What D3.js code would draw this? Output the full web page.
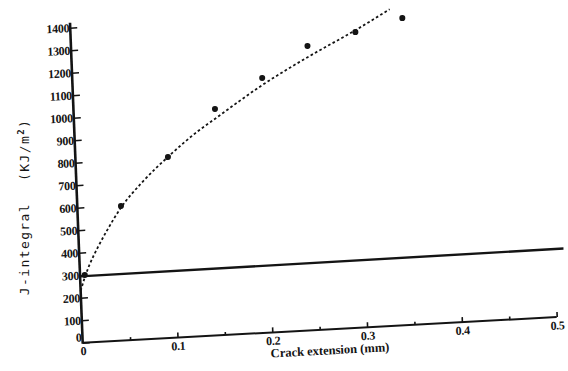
<!DOCTYPE html>
<html lang="en">
<head>
  <meta charset="utf-8">
  <title>J-integral vs crack extension</title>
  <script type="text/javascript" src="https://cdn.jsdelivr.net/npm/d3@7"></script>
  <style>
    body { margin: 0; background: #fff; }
    svg { display: block; }
  </style>
</head>
<body>
  <script type="text/javascript">

  // tick values
  var xMajor = [0.1, 0.2, 0.3, 0.4, 0.5];
  var xMinor = [0.05, 0.15, 0.25, 0.35, 0.45];
  var xLabels = [0, 0.1, 0.2, 0.3, 0.4, 0.5];
  var yTicks = [0, 100, 200, 300, 400, 500, 600, 700, 800, 900, 1000, 1100, 1200, 1300, 1400];

  // measured points (crack extension mm, J kJ/m2)
  var pointX = [0.005, 0.046, 0.0975, 0.149, 0.2, 0.249, 0.3, 0.35];
  var pointJ = [300, 597, 803, 1005, 1131, 1262, 1312, 1363];

  // fitted R-curve (dashed)
  var fitX = [0, 0.005, 0.01, 0.02, 0.03, 0.046, 0.07, 0.1, 0.13, 0.15, 0.2, 0.25, 0.3, 0.337];
  var fitJ = [230, 290, 340, 420, 490, 590, 700, 812, 910, 965, 1100, 1215, 1320, 1405];

  // blunting line (solid)
  var bluntX = [0, 0.51];
  var bluntJ = [295, 302];

  var width = 568;
  var height = 371;
  var ink = "#141414";

  var svg = d3.select("body")
    .append("svg")
    .attr("width", width)
    .attr("height", height)
    .attr("viewBox", [0, 0, width, height]);

  // the scan is a bit skewed, so the plot lives in a sheared group
  var plot = svg.append("g")
    .attr("transform", "matrix(1,-0.0542,0.0397,1,82.7,342.7)");

  var x = d3.scaleLinear().domain([0, 0.5]).range([0, 474]);
  var y = d3.scaleLinear().domain([0, 1400]).range([0, -315]);

  // axis lines
  plot.append("line")
    .attr("x1", 0).attr("y1", 0)
    .attr("x2", x(0.5)).attr("y2", 0)
    .attr("stroke", ink).attr("stroke-width", 2);
  plot.append("line")
    .attr("x1", 0).attr("y1", 1)
    .attr("x2", 0).attr("y2", y(1422))
    .attr("stroke", ink).attr("stroke-width", 2.6);

  // y ticks pointing right, labels on the left
  var yTickAxis = plot.append("g")
    .call(d3.axisRight(y).tickValues(yTicks).tickSize(7).tickFormat(""));
  var yLabAxis = plot.append("g")
    .call(d3.axisLeft(y).tickValues(yTicks).tickSize(0).tickPadding(1).tickFormat(d3.format("d")));

  // x ticks pointing up, labels below
  var xTickAxis = plot.append("g")
    .call(d3.axisTop(x).tickValues(xMajor).tickSize(5).tickFormat(""));
  var xMinorAxis = plot.append("g")
    .call(d3.axisTop(x).tickValues(xMinor).tickSize(3).tickFormat(""));
  var xLabAxis = plot.append("g")
    .call(d3.axisBottom(x).tickValues(xLabels).tickSize(0).tickPadding(4)
      .tickFormat(d => d === 0 ? "0" : d3.format(".1f")(d)));

  [yTickAxis, yLabAxis, xTickAxis, xMinorAxis, xLabAxis].forEach(function(a) {
    a.select(".domain").remove();
    a.selectAll("line").attr("stroke", ink).attr("stroke-width", 1.6);
    a.selectAll("text")
      .attr("fill", ink)
      .style("font-family", "'Liberation Serif', serif")
      .style("font-weight", "bold")
      .style("font-size", "12px")
      .style("letter-spacing", "-0.3px");
  });

  // the "0" label of the y axis sits a bit above the corner
  yLabAxis.selectAll(".tick").filter(d => d === 0)
    .select("text").attr("dy", "-0.15em");

  // blunting line
  plot.append("path")
    .datum(bluntX.map((d, i) => [d, bluntJ[i]]))
    .attr("fill", "none")
    .attr("stroke", ink)
    .attr("stroke-width", 2.4)
    .attr("d", d3.line().x(d => x(d[0])).y(d => y(d[1])));

  // fitted curve
  plot.append("path")
    .datum(fitX.map((d, i) => [d, fitJ[i]]))
    .attr("fill", "none")
    .attr("stroke", ink)
    .attr("stroke-width", 1.8)
    .attr("stroke-dasharray", "2.6,2.4")
    .attr("d", d3.line().curve(d3.curveMonotoneX).x(d => x(d[0])).y(d => y(d[1])));

  // data points
  plot.append("g")
    .selectAll("circle")
    .data(pointX.map((d, i) => [d, pointJ[i]]))
    .enter()
    .append("circle")
    .attr("cx", d => x(d[0]))
    .attr("cy", d => y(d[1]))
    .attr("r", 3)
    .attr("fill", ink);

  // x title
  plot.append("text")
    .attr("x", x(0.26))
    .attr("y", 25)
    .attr("text-anchor", "middle")
    .attr("fill", ink)
    .style("font-family", "'Liberation Serif', serif")
    .style("font-weight", "bold")
    .style("font-size", "12.5px")
    .text("Crack extension (mm)");

  // y title, typewriter look
  var yTitle = svg.append("text")
    .attr("transform", "translate(29,207) rotate(-90)")
    .attr("text-anchor", "middle")
    .attr("fill", ink)
    .style("font-family", "'DejaVu Sans Mono', monospace")
    .style("font-size", "13px")
    .style("letter-spacing", "1.4px");
  yTitle.append("tspan").text("J-integral");
  yTitle.append("tspan").attr("dx", 22).text("(KJ/m");
  yTitle.append("tspan").attr("dy", -5).style("font-size", "9px").style("font-weight", "bold").text("2");
  yTitle.append("tspan").attr("dy", 5).text(")");

  </script>
</body>
</html>
